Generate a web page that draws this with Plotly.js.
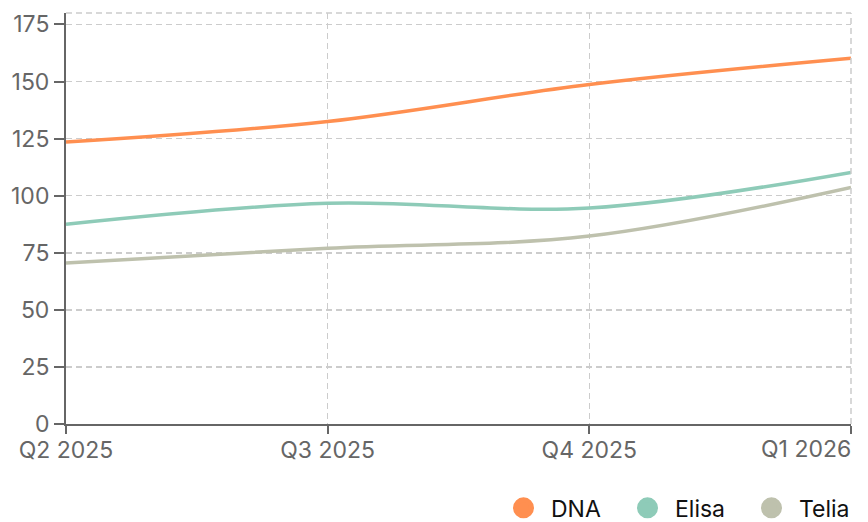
<!DOCTYPE html>
<html>
<head>
<meta charset="utf-8">
<script src="https://cdn.plot.ly/plotly-3.0.1.min.js"></script>
<style>html,body{margin:0;padding:0;background:#fff;}#chart{width:868px;height:522px;}</style>
</head>
<body>
<div id="chart"></div>
<script>
const quarters = ["Q2 2025", "Q3 2025", "Q4 2025", "Q1 2026"];
const dna = [123.5, 132.5, 148.7, 160.2];
const elisa = [87.5, 96.7, 94.6, 110.2];
const telia = [70.5, 77.0, 82.3, 103.6];
const seriesNames = ["DNA", "Elisa", "Telia"];
const seriesColors = ["#FF8F50", "#8ECBB8", "#BEC1AD"];
const seriesValues = [dna, elisa, telia];
const yTicks = [0, 25, 50, 75, 100, 125, 150, 175];

const traces = [];
seriesValues.forEach((vals, i) => {
  traces.push({
    x: quarters, y: vals, type: "scatter", mode: "lines",
    name: seriesNames[i], showlegend: false,
    line: {color: seriesColors[i], width: 3.5, shape: "spline", smoothing: 1}
  });
});
seriesValues.forEach((vals, i) => {
  traces.push({
    x: [null], y: [null], type: "scatter", mode: "markers",
    name: seriesNames[i], showlegend: true,
    marker: {color: seriesColors[i], size: 16, symbol: "circle",
             line: {color: seriesColors[i], width: 5}}
  });
});

const lastIdx = quarters.length - 1;
const tickText = quarters.map((q, i) => i === lastIdx ? "" : q);

const layout = {
  width: 868, height: 522,
  margin: {l: 66, r: 17, t: 13, b: 98},
  paper_bgcolor: "#fff", plot_bgcolor: "#fff",
  font: {family: "Inter, 'Noto Sans', sans-serif", size: 23, color: "#666"},
  xaxis: {
    type: "category", range: [0, 3],
    tickvals: quarters, ticktext: tickText,
    showgrid: true, gridcolor: "#cccccc", griddash: "6px,4px", gridwidth: 1.5,
    showline: true, linecolor: "#666", linewidth: 2,
    ticks: "outside", ticklen: 8, tickcolor: "#666", tickwidth: 2,
    ticklabelstandoff: -4,
    tickfont: {size: 23, color: "#666"}, zeroline: false, fixedrange: true,
    automargin: false
  },
  yaxis: {
    range: [0, 180], tickvals: yTicks,
    showgrid: true, gridcolor: "#cccccc", griddash: "6px,4px", gridwidth: 1.5,
    showline: true, linecolor: "#666", linewidth: 2,
    ticks: "outside", ticklen: 10, tickcolor: "#666", tickwidth: 2,
    tickfont: {size: 23, color: "#666"}, zeroline: false, fixedrange: true,
    automargin: false
  },
  shapes: [
    {type: "line", xref: "paper", yref: "paper", x0: 0, x1: 1, y0: 1, y1: 1,
     line: {color: "#cccccc", width: 1.5, dash: "6px,4px"}},
    {type: "line", xref: "paper", yref: "paper", x0: 1, x1: 1, y0: 0, y1: 1,
     line: {color: "#cccccc", width: 1.5, dash: "6px,4px"}}
  ],
  annotations: [
    {x: quarters[lastIdx], y: 0, xref: "x", yref: "paper", text: quarters[lastIdx],
     showarrow: false, xanchor: "right", yanchor: "top", yshift: -9, xshift: 2,
     font: {size: 23, color: "#666"}}
  ],
  showlegend: true,
  legend: {
    orientation: "h", x: 1.0217, xanchor: "right",
    yref: "container", y: 0.027, yanchor: "middle",
    font: {size: 23, color: "#111"}, itemsizing: "trace", itemwidth: 45,
    entrywidth: 64,
    traceorder: "normal", bgcolor: "rgba(0,0,0,0)"
  }
};

Plotly.newPlot("chart", traces, layout, {displayModeBar: false, staticPlot: true});
</script>
</body>
</html>
